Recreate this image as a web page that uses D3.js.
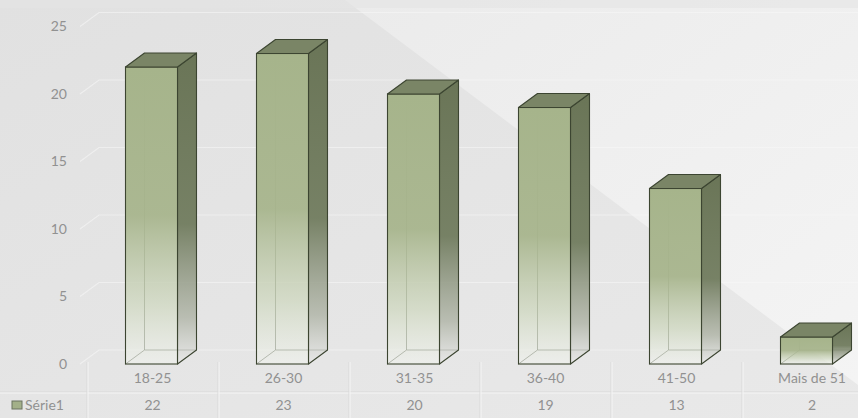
<!DOCTYPE html>
<html><head><meta charset="utf-8">
<script src="https://cdn.jsdelivr.net/npm/d3@7"></script>
<style>html,body{margin:0;padding:0;background:#e6e6e6;}svg{display:block;}</style>
</head><body>
<svg id="c" width="858" height="418"></svg>
<script>
const categories = ["18-25","26-30","31-35","36-40","41-50","Mais de 51"];
const values = [22,23,20,19,13,2];
const yTicks = [0,5,10,15,20,25];
const seriesName = "Série1";

const W=858,H=418;
const svg=d3.select("#c");
const defs=svg.append("defs");
const font="'Lato','Open Sans',sans-serif";

// background
const bg=defs.append("linearGradient").attr("id","bg").attr("x1",0).attr("y1",0).attr("x2",1).attr("y2",1);
bg.append("stop").attr("offset",0).attr("stop-color","#e1e1e1");
bg.append("stop").attr("offset",1).attr("stop-color","#e9e9e9");
const lt=defs.append("linearGradient").attr("id","lt").attr("x1",0).attr("y1",0).attr("x2",1).attr("y2",1);
lt.append("stop").attr("offset",0).attr("stop-color","#ebebeb");
lt.append("stop").attr("offset",1).attr("stop-color","#f4f4f4");

svg.append("rect").attr("width",W).attr("height",H).attr("fill","url(#bg)");
svg.append("polygon").attr("points","345,0 858,0 858,385").attr("fill","url(#lt)");
svg.append("rect").attr("width",W).attr("height",8).attr("fill","#e4e4e4").attr("opacity",0.6);

// scales
const x=d3.scaleBand().domain(categories).range([87,87+131*6]).padding(0);
const y=d3.scaleLinear().domain([0,25]).range([364,26.5]);
const dx=19, dy=14, bw=52;

// gridlines on back wall
const g=svg.append("g");
yTicks.forEach(t=>{
  const yy=y(t);
  g.append("path").attr("d",`M${80},${yy} L${80+dx},${yy-dy} L${W},${yy-dy}`)
   .attr("fill","none").attr("stroke","#f7f7f7").attr("stroke-width",1.2).attr("opacity",0.55);
});

// y axis labels
const yAxis=d3.axisLeft(y).tickValues(yTicks).tickSize(0).tickPadding(0);
const ya=svg.append("g").attr("transform","translate(67,0)").call(yAxis);
ya.select(".domain").remove();
ya.selectAll("text").attr("font-family",font).attr("font-size",14).attr("fill","#919191");

// gradients
const fg=defs.append("linearGradient").attr("id","front").attr("x1",0).attr("y1",0).attr("x2",0).attr("y2",1);
[[0,"#a6b48b",1],[0.5,"#a9b68f",0.97],[0.8,"#cfd8c0",0.75],[1,"#f1f3ee",0.55]].forEach(s=>
  fg.append("stop").attr("offset",s[0]).attr("stop-color",s[1]).attr("stop-opacity",s[2]));
const sg=defs.append("linearGradient").attr("id","side").attr("x1",0).attr("y1",0).attr("x2",0).attr("y2",1);
[[0,"#6a7557",1],[0.55,"#737e61",0.97],[0.85,"#aeb3a5",0.8],[1,"#e8e8e8",0.7]].forEach(s=>
  sg.append("stop").attr("offset",s[0]).attr("stop-color",s[1]).attr("stop-opacity",s[2]));

const stroke="#3c4531";
const bars=svg.append("g");
categories.forEach((c,i)=>{
  const v=values[i];
  const xf=x(c)+x.bandwidth()/2-bw/2-1;
  const yt=y(v), yb=y(0);
  const b=bars.append("g");
  b.append("path").attr("d",`M${xf},${yb} L${xf+dx},${yb-dy} L${xf+bw+dx},${yb-dy} M${xf+dx},${yb-dy} L${xf+dx},${yt-dy}`)
    .attr("fill","none").attr("stroke",stroke).attr("stroke-width",1).attr("opacity",0.75);
  b.append("path").attr("d",`M${xf+bw},${yt} L${xf+bw+dx},${yt-dy} L${xf+bw+dx},${yb-dy} L${xf+bw},${yb} Z`)
    .attr("fill","url(#side)").attr("stroke",stroke).attr("stroke-width",1.1).attr("stroke-linejoin","round");
  b.append("rect").attr("x",xf).attr("y",yt).attr("width",bw).attr("height",yb-yt)
    .attr("fill","url(#front)").attr("stroke",stroke).attr("stroke-width",1.1);
  b.append("path").attr("d",`M${xf},${yt} L${xf+dx},${yt-dy} L${xf+bw+dx},${yt-dy} L${xf+bw},${yt} Z`)
    .attr("fill","#7a8566").attr("stroke",stroke).attr("stroke-width",1.1).attr("stroke-linejoin","round");
});

// data table
const tb=svg.append("g");
tb.append("line").attr("x1",0).attr("x2",W).attr("y1",392).attr("y2",392).attr("stroke","#d8d8d8").attr("stroke-width",1);
tb.append("line").attr("x1",0).attr("x2",W).attr("y1",393).attr("y2",393).attr("stroke","#f6f6f6").attr("stroke-width",1);
categories.forEach((c,i)=>{
  const x0=x(c);
  tb.append("line").attr("x1",x0).attr("x2",x0).attr("y1",362).attr("y2",H).attr("stroke","#d8d8d8");
  tb.append("line").attr("x1",x0+1).attr("x2",x0+1).attr("y1",362).attr("y2",H).attr("stroke","#f5f5f5");
  const cx=i===categories.length-1 ? 812 : x0+x.bandwidth()/2;
  tb.append("text").attr("x",cx).attr("y",383).attr("text-anchor","middle")
    .attr("font-family",font).attr("font-size",14).attr("fill","#919191").text(c);
  tb.append("text").attr("x",cx).attr("y",410).attr("text-anchor","middle")
    .attr("font-family",font).attr("font-size",14).attr("fill","#919191").text(values[i]);
});
tb.append("rect").attr("x",12).attr("y",401).attr("width",10).attr("height",8)
  .attr("fill","#a3b089").attr("stroke","#6b7360").attr("stroke-width",1);
tb.append("text").attr("x",25).attr("y",410).attr("font-family",font).attr("font-size",14)
  .attr("fill","#919191").text(seriesName);
</script>
</body></html>
